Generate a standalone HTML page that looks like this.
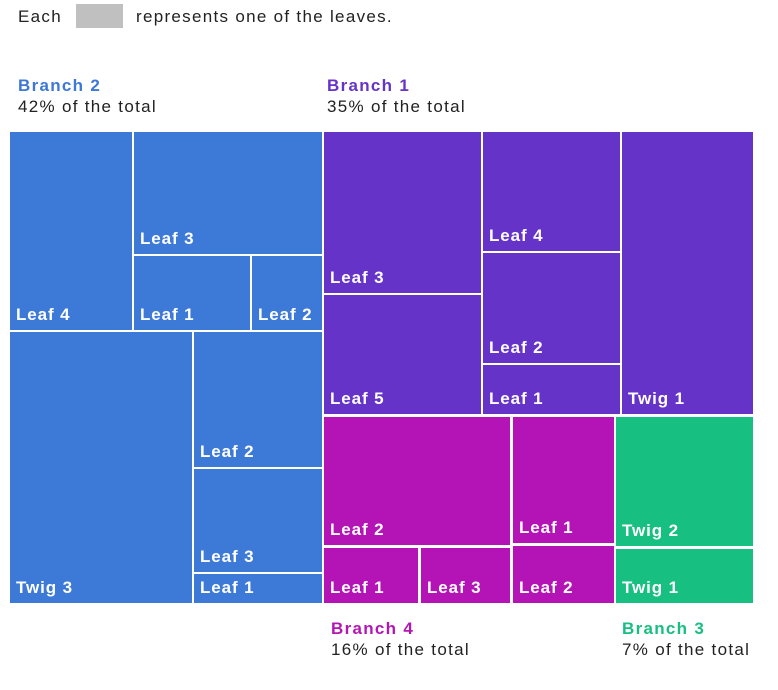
<!DOCTYPE html>
<html><head><meta charset="utf-8">
<style>
body{margin:0;background:#fff;width:778px;height:690px;overflow:hidden;font-family:"Liberation Sans",sans-serif;}
.t{position:absolute;white-space:nowrap;letter-spacing:1.3px;}
</style></head>
<body>
<div class="t" style="left:18px;top:7px;font-size:17px;color:#222">Each</div>
<div style="position:absolute;left:76px;top:4px;width:47px;height:24px;background:#c0c0c0"></div>
<div class="t" style="left:136px;top:7px;font-size:17px;color:#222">represents one of the leaves.</div>

<div class="t" style="left:18px;top:76px;font-size:17px;font-weight:bold;color:#3d78d6">Branch 2</div>
<div class="t" style="left:18px;top:97px;font-size:17px;color:#222">42% of the total</div>
<div class="t" style="left:327px;top:76px;font-size:17px;font-weight:bold;color:#6633c9">Branch 1</div>
<div class="t" style="left:327px;top:97px;font-size:17px;color:#222">35% of the total</div>
<div class="t" style="left:331px;top:619px;font-size:17px;font-weight:bold;color:#b416b4">Branch 4</div>
<div class="t" style="left:331px;top:640px;font-size:17px;color:#222">16% of the total</div>
<div class="t" style="left:622px;top:619px;font-size:17px;font-weight:bold;color:#17bf80">Branch 3</div>
<div class="t" style="left:622px;top:640px;font-size:17px;color:#222">7% of the total</div>

<div id="tm"></div>
<script>
const colors = {b2:'#3d79d7', b1:'#6633c9', b4:'#b414b5', b3:'#17bf80'};
const labels = ['Leaf 4','Leaf 3','Leaf 1','Leaf 2','Twig 3','Leaf 2','Leaf 3','Leaf 1',
 'Leaf 3','Leaf 5','Leaf 4','Leaf 2','Leaf 1','Twig 1',
 'Leaf 2','Leaf 1','Leaf 3','Leaf 1','Leaf 2','Twig 2','Twig 1'];
const branches = ['b2','b2','b2','b2','b2','b2','b2','b2','b1','b1','b1','b1','b1','b1','b4','b4','b4','b4','b4','b3','b3'];
// layout rectangles [x0,y0,x1,y1]
const rects = [[10,132,132,330],[134,132,322,254],[134,256,250,330],[252,256,322,330],[10,332,192,603],[194,332,322,467],[194,469,322,572],[194,574,322,603],
 [324,132,481,293],[324,295,481,414],[483,132,620,251],[483,253,620,363],[483,365,620,414],[622,132,753,414],
 [324,417,510,545],[324,548,418,603],[421,548,510,603],[513,417,614,543],[513,546,614,603],[616,417,753,546],[616,549,753,603]];
const tm = document.getElementById('tm');
rects.forEach((r,i)=>{
  const d = document.createElement('div');
  
  
  d.style.cssText = `position:absolute;left:${r[0]}px;top:${r[1]}px;width:${r[2]-r[0]}px;height:${r[3]-r[1]}px;background:${colors[branches[i]]};`;
  const s = document.createElement('span');
  
  
  s.textContent = labels[i];
  s.style.cssText = 'position:absolute;left:6px;bottom:6px;color:#fff;font-weight:bold;font-size:17px;letter-spacing:0.9px;white-space:nowrap;line-height:18px;';
  d.appendChild(s);
  tm.appendChild(d);
});
</script>
</body></html>
